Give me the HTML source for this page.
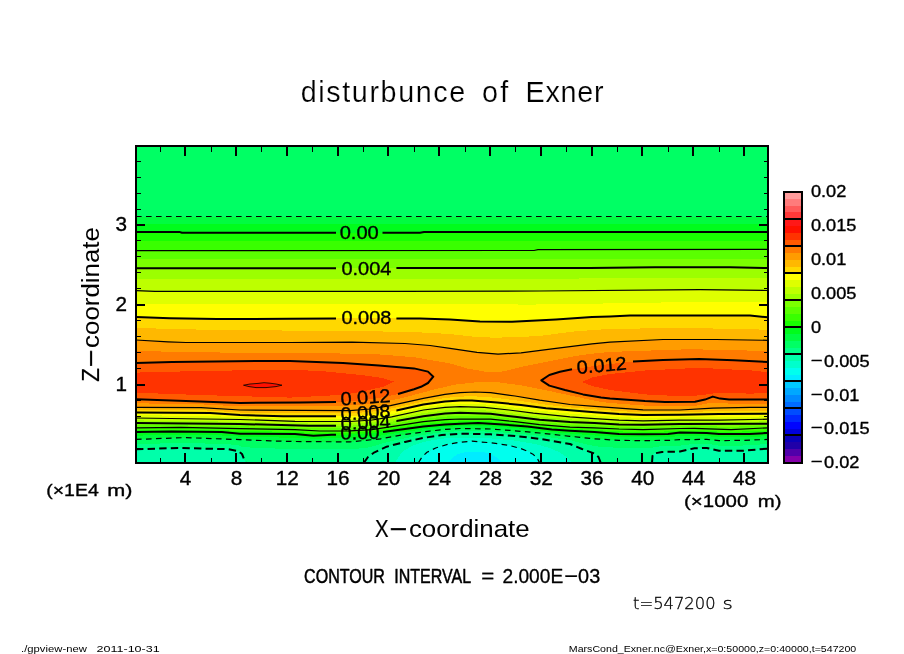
<!DOCTYPE html>
<html lang="en"><head><meta charset="utf-8"><title>disturbunce of Exner</title>
<style>html,body{margin:0;padding:0;background:#fff}svg{display:block}text{font-family:"Liberation Sans","DejaVu Sans",sans-serif;fill:#000}.thin{font-family:"DejaVu Sans Light","DejaVu Sans","Liberation Sans",sans-serif;font-weight:200;stroke:#000;stroke-width:.3px}.b{stroke:#000;stroke-width:.35px;stroke-linejoin:round}.m{stroke:#fff;stroke-width:.2px}.a{stroke:#000;stroke-width:0}</style></head><body>
<svg width="904" height="654" viewBox="0 0 904 654">
<rect width="904" height="654" fill="#fff"/>
<defs><clipPath id="cp"><rect x="136" y="146" width="632" height="316.6"/></clipPath></defs>
<g clip-path="url(#cp)" shape-rendering="crispEdges">
<rect x="136" y="146" width="632" height="316.6" fill="#00ff64"/>
<path d="M136 217.4L768 217.4L768 439.4L743.4 440.4L719 440.6L706.7 439.4L680 439.7L668 440.4L643 440.6L619 440.4L594.5 438.8L570 436.3L539.6 433L515 430.8L490.6 429L460 428.5L445 429.4L429.6 431.1L405 434.5L380.6 438.8L350 441.9L292.6 441.5L270.6 440.9L240 439.6L185 437.6L136 439.4Z" fill="#00fc40"/>
<path d="M136 224L768 224L768 436.2L749.6 437L743.4 437.1L719 437.2L706.7 436.2L680 436.1L668 437.1L643 437.5L619 437.1L594.5 435.5L570 433.5L551.8 432L539.6 430.6L527.3 429.2L515 428.2L502.8 427.2L490.6 426.4L478.4 425.9L460 426.1L445 427L429.6 428.6L423.4 429.3L405 431.8L383 435.2L380.6 435.5L355 437.9L350 438.2L331.8 438.3L313.4 438.7L295 437.7L292.6 437.7L270.6 437.4L240 436.6L221.8 435.5L185 434.6L171.6 434.8L136 435.7Z" fill="#00fc1c"/>
<path d="M136 232.1L180 232.1L182 232.8L420 232.8L424 232.1L768 232L768 433L749.6 433.9L719 433.9L706.7 433L680 432.5L668 433.9L643 434.3L619 433.9L594.5 432.1L570 430.7L551.8 429.6L527.3 426.6L502.8 424.5L478.4 422.9L460 423.8L445 424.6L423.4 426.6L405 429L383 432L355 434.4L331.8 434.8L313.4 435.7L295 433.9L240 433.7L221.8 432L171.6 431.5L136 432Z" fill="#18ff00"/>
<path d="M136 241.2L768 241L768 430.4L749.6 431.3L731 431.8L719 431.6L706.7 430.9L694.5 430.6L680 430.5L668 431.4L643 432L619 431.4L594.5 430L570 428.9L551.8 427.7L539.6 426.4L527.3 424.9L515 423.6L502.8 422.5L490.6 421.4L478.4 421L460 421.4L445 422.1L423.4 424.1L405 426.8L391.6 428.7L383 430L372 431.3L355 432.5L350 432.6L331.8 432.9L319.6 433.2L313.4 433.2L295 431.8L240 431.1L221.8 430.1L181 429.5L171.6 429.5L136 429.9Z" fill="#39ff00"/>
<path d="M136 250.6L534 250.5L538 249.7L768 249.3L768 427.8L731 429.6L694.5 428.4L680 428.5L643 429.6L619 429L594.5 427.8L570 427.2L539.6 424.7L515 421.7L490.6 419.2L460 419L445 419.6L423.4 421.7L391.6 426.6L372 429.6L350 430.8L319.6 431L295 429.6L240 428.6L181 427.4L136 427.8Z" fill="#5aff00"/>
<path d="M136 259.4L768 258.8L768 425.8L731 426.7L694.5 426.2L680 426.3L643 427.1L619 426.8L594.5 425.4L570 424.5L539.6 422.2L515 419.2L490.6 416.4L460 415.9L445 416.6L423.4 418.9L396.5 423.4L391.6 424.2L375 426.7L372 427L350 428.2L319.6 428.4L308.5 428L295 427.5L240 426.3L181 425.4L136 425.4Z" fill="#7bff00"/>
<path d="M136 268.3L590 268L655 267.3L730 267.3L768 268L768 423.7L680 424.1L643 424.7L619 424.5L594.5 422.9L570 421.9L539.6 419.8L515 416.8L490.6 413.7L460 412.8L445 413.6L423.4 416.2L396.5 421L375 424.2L350 425.7L308.5 425.7L240 424L136 422.9Z" fill="#9cff00"/>
<path d="M136 279L768 278.3L768 421.4L719 422L680 422.1L643 422.8L619 422.3L594.5 420.8L570 419.4L539.6 416.8L533.4 416.1L515 413.8L509 413L490.6 410.8L484.5 410.4L460 409.8L445 410.5L423.4 413.1L396.5 418.4L391.6 419.3L375 421.9L372 422.2L350 423.6L308.5 423.5L295 423.3L240 421.8L136 420.4Z" fill="#bdff00"/>
<path d="M136 290.6L155 291.4L400 291.3L540 291L700 289.7L768 290.5L768 419.2L719 420.1L680 420.2L643 420.8L619 420.1L594.5 418.6L570 416.8L533.4 413.1L509 410L484.5 407.3L460 406.7L445 407.4L423.4 410L391.6 416.8L372 420L350 421.5L295 421.3L240 419.5L136 418Z" fill="#deff00"/>
<path d="M136 304.3L290 304.2L450 304L530 304.6L610 303.4L690 302L768 302.5L768 416.4L719 417L680 417.5L643 417.9L619 417.1L594.5 415.4L570 413.6L546 411.3L533.4 409.9L521 408.3L509 406.9L497 405.5L484.5 404.4L472 403.7L460 403.6L445 404.5L423.4 407.2L396.5 413.2L391.6 414.1L372 417.3L350 418.9L295 418.8L283 418.6L240 417.2L210 416.1L136 415.2Z" fill="#ffff00"/>
<path d="M136 316.9L170 318.2L217 319.1L290 318.7L365 318.2L420 318.6L450 319.6L480 321.4L512 321.7L556 319.4L592 317L610 316.4L630 315.5L750 315.5L768 317.3L768 413.7L719 413.9L680 414.8L643 414.9L619 414.1L594.5 412.2L570 410.3L546 408.2L521 405.1L497 402.4L472 400.5L460 400.5L445 401.6L423.4 404.5L396.5 410.6L372 414.6L350 416.2L283 416.2L240 415L210 413.1L136 412.5Z" fill="#ffd800"/>
<path d="M136 328L200 329.6L290 330.6L370 331.2L420 332.4L450 334L475 336.8L494 337.7L515 337.2L539 336L574 331.5L610 328.8L690 328L768 329.7L768 410.5L750 410.5L719 411L713 411.1L680 412.4L643 412.4L619 411.1L594.5 409.3L570 407.4L546 404.7L539.6 403.8L521 401.1L515 400.2L497 398L490.6 397.3L475 396.4L472 396.3L460 396.6L445 398L423.4 401.4L396.5 407.5L390.4 408.6L372 411.6L370 411.9L350 413.4L283 413.2L240 412.5L210 410.6L201 410.3L136 409.9Z" fill="#ffb800"/>
<path d="M136 340L168 341.8L186 342.5L290 342.5L352 342.1L405 343.5L430 345.5L450 348.3L477 352.4L498 354.2L521 352.8L556 348.3L592 343.9L610 342.1L663 339.5L716 339.5L768 340.3L768 407.3L750 407.3L713 408.2L680 410L643 409.8L619 408.2L594.5 406.4L570 404.5L539.6 400.2L515 396L490.6 392.7L475 392L460 392.6L445 394.4L423.4 398.4L390.4 405.7L370 409L350 410.6L240 410L201 407.6L136 407.3Z" fill="#ff9c00"/>
<path d="M136 351L200 352.3L290 353.2L370 353.7L414 357.2L450 363.4L468 368.7L485 371.6L495 372L503 371.4L521 367L539 363.4L556 359.9L574 356.3L592 353.7L610 351.9L690 349.2L768 351L768 403.5L730 403.6L712 402.5L695 405.8L665 406L645 405.6L610 403L599 401.6L566 394.6L543.8 389.8L521.7 385.4L499.6 382.5L477 382.2L455 384.6L433 389.8L400 398.6L390 400.5L370 404L336 406.4L240 406.4L200 404.3L136 403.3Z" fill="#ff7b00"/>
<path d="M136 363L172 362L261 361L290 361L343 363L379 365.5L414 368.4L428 371.6L433.3 376.7L428 383L421 386.8L414 389.2L398 394L380 397.8L360 400.6L336 402.1L300 402.5L240 402.9L200 401.5L136 399.3ZM768 362L734 360.2L699 359L663 359.9L633 361.6L600 365.2L572 369.3L560 371.8L549.3 375L541.3 380.3L549.3 385.6L565 390L583 394.4L601 397.5L610 398.5L645 401L665 401.9L695 401.7L705 399.6L712.8 396.6L720 398.6L729 399.6L768 399.6Z" fill="#ff5a00"/>
<path d="M136 372.6L200 371L290 369.6L325 371.4L361 375L382 378L393.8 381.5L384 386.5L361 391.8L343 394.8L290 397.6L200 395L136 392.7ZM768 372.3L752 370.5L699 367.8L645 370.5L610 374L592 377.6L582 382L592 386L610 390L645 394.4L681 396.2L700 395.4L716 393L752 393.6L768 392.7Z" fill="#ff3300"/>
<path d="M243.5 385.2L250 384L258 383.4L264 382.7L270 383.2L276 384L282 385.2L276 386.6L266 387.6L256 387.6L249 386.6Z" fill="#ff1000"/>
<path d="M136 444.3L179 442.9L185 442.9L228 444.2L238 445.3L240 446.1L242 446.8L245.5 447.3L247 447.4L270.6 448.4L292.6 449L350 449.4L362 448.2L364 448L368 447.6L374.5 445.9L380.6 444.1L386.7 442.2L405 438.2L423.4 434.9L429.6 434L441.8 432.4L445 432.1L460 431.1L490.6 431.6L515 433.4L539.6 435.9L570 440.1L582 443.3L594.5 446.1L598.5 446.6L600.6 446.7L602 446.8L619 447.9L643 448.1L650.5 448L652 448L652.5 448L654 447L662 446.2L668 446.1L680 445.6L694.5 443.9L706.7 443.7L719 445.6L743.4 445.5L768 444L768 490L136 490Z" fill="#00ff88"/>
<path d="M136 449.2L179 448L228 449.2L238 451L242 454L245.5 462.6L247 480L362 480L364 462.6L368 457L374.5 452.3L386.7 446.7L405 441.9L423.4 437.9L441.8 435.1L460 433.7L490.6 434.3L515 436L539.6 438.8L570 444L582 449L594.5 453.5L598.5 457L600.6 462.6L602 480L650.5 480L652 462.6L652.5 456L654 453.5L662 452L680 451.5L694.5 448.2L706.7 448L719 450.7L743.4 450.7L768 448.6L768 490L136 490Z" fill="#00ffaa"/>
<path d="M395 462.6L402 452L412 446L425 441.6L441.8 438.6L460 437.6L480 437.6L490.6 438.4L515 440.6L533 443.6L548 447.4L560 452.5L568 458L572 462.6Z" fill="#00ffcc"/>
<path d="M418.5 462.6L422 457L427 452.3L435.7 448L448 444.3L460 442.2L472 441.2L490.6 442.8L509 445.3L521 448.6L528 451.4L533.4 454.6L537 458L539.6 462.6Z" fill="#00ffee"/>
<path d="M448.5 462.6L452 458L457 454.6L464 452.4L474 451.5L485 452.4L492 454.6L497.5 458L501.5 462.6Z" fill="#00ecff"/>
</g>
<g clip-path="url(#cp)" fill="none" stroke="#000" stroke-linejoin="round">
<path d="M136 216.5L768 216.5" stroke-width="1" stroke-dasharray="5.6 4.4"/>
<g stroke-width="2.0">
<path d="M136 232.1L180 232.1L182 232.8L336 232.8M382.5 232.8L420 232.8L424 232.1L768 232"/>
<path d="M136 268.3L336 268.2M396.4 268.1L590 268L655 267.3L730 267.3L768 268"/>
<path d="M136 316.9L170 318.2L217 319.1L290 318.7L336 318.4M396.4 318.4L420 318.6L450 319.6L480 321.4L512 321.7L556 319.4L592 317L610 316.4L630 315.5L750 315.5L768 317.3"/>
<path d="M136 363L172 362L261 361L290 361L343 363L379 365.5L414 368.4L428 371.6L433.3 376.7L428 383L421 386.8L414 389.2L398 394M336 402.1L300 402.5L240 402.9L200 401.5L136 399.3"/>
<path d="M768 362L734 360.2L699 359L663 359.9L633 361.6M572 369.3L560 371.8L549.3 375L541.3 380.3L549.3 385.6L565 390L583 394.4L601 397.5L610 398.5L645 401L665 401.9L695 401.7L705 399.6L712.8 396.6L720 398.6L729 399.6L768 399.6"/>
<path d="M136 412.5L210 413.1L240 415L283 416.2L336 416.2M396.4 410.6L396.5 410.6L423.4 404.5L445 401.6L460 400.5L472 400.5L497 402.4L521 405.1L546 408.2L570 410.3L594.5 412.2L619 414.1L643 414.9L680 414.8L719 413.9L768 413.7"/>
<path d="M136 422.9L240 424L308.5 425.7L336 425.7M396.4 421L396.5 421L423.4 416.2L445 413.6L460 412.8L490.6 413.7L515 416.8L539.6 419.8L570 421.9L594.5 422.9L619 424.5L643 424.7L680 424.1L768 423.7"/>
<path d="M136 432L171.6 431.5L221.8 432L240 433.7L295 433.9L313.4 435.7L331.8 434.8L336 434.7M383 432L405 429L423.4 426.6L445 424.6L460 423.8L478.4 422.9L502.8 424.5L527.3 426.6L551.8 429.6L570 430.7L594.5 432.1L619 433.9L643 434.3L668 433.9L680 432.5L706.7 433L719 433.9L749.6 433.9L768 433"/>
<path d="M136 449.2L179 448L228 449.2L238 451L242 454L245.5 462.6M364 462.6L368 457L374.5 452.3L386.7 446.7L405 441.9L423.4 437.9L441.8 435.1L460 433.7L490.6 434.3L515 436L539.6 438.8L570 444L582 449L594.5 453.5L598.5 457L600.6 462.6M652 462.6L652.5 456L654 453.5L662 452L680 451.5L694.5 448.2L706.7 448L719 450.7L743.4 450.7L768 448.6" stroke-dasharray="7.4 4.2"/>
</g>
<g stroke-width="1.2">
<path d="M136 250.6L534 250.5L538 249.7L768 249.3"/>
<path d="M136 290.6L155 291.4L400 291.3L540 291L700 289.7L768 290.5"/>
<path d="M136 340L168 341.8L186 342.5L290 342.5L352 342.1L405 343.5L430 345.5L450 348.3L477 352.4L498 354.2L521 352.8L556 348.3L592 343.9L610 342.1L663 339.5L716 339.5L768 340.3"/>
<path d="M136 407.3L201 407.6L240 410L350 410.6L370 409L390.4 405.7L423.4 398.4L445 394.4L460 392.6L475 392L490.6 392.7L515 396L539.6 400.2L570 404.5L594.5 406.4L619 408.2L643 409.8L680 410L713 408.2L750 407.3L768 407.3"/>
<path d="M136 418L240 419.5L295 421.3L350 421.5L372 420L391.6 416.8L423.4 410L445 407.4L460 406.7L484.5 407.3L509 410L533.4 413.1L570 416.8L594.5 418.6L619 420.1L643 420.8L680 420.2L719 420.1L768 419.2"/>
<path d="M136 427.8L181 427.4L240 428.6L295 429.6L319.6 431L350 430.8L372 429.6L391.6 426.6L423.4 421.7L445 419.6L460 419L490.6 419.2L515 421.7L539.6 424.7L570 427.2L594.5 427.8L619 429L643 429.6L680 428.5L694.5 428.4L731 429.6L768 427.8"/>
<path d="M243.5 385.2L250 384L258 383.4L264 382.7L270 383.2L276 384L282 385.2L276 386.6L266 387.6L256 387.6L249 386.6Z" stroke-width=".8"/>
<path d="M136 439.4L185 437.6L240 439.6L270.6 440.9L292.6 441.5L350 441.9L380.6 438.8L405 434.5L429.6 431.1L445 429.4L460 428.5L490.6 429L515 430.8L539.6 433L570 436.3L594.5 438.8L619 440.4L643 440.6L668 440.4L680 439.7L706.7 439.4L719 440.6L743.4 440.4L768 439.4" stroke-dasharray="5.6 4.4"/>
<path d="M418.5 462.6L422 457L427 452.3L435.7 448L448 444.3L460 442.2L472 441.2L490.6 442.8L509 445.3L521 448.6L528 451.4L533.4 454.6L537 458L539.6 462.6" stroke-dasharray="5.6 4.4"/>
</g>
</g>
<text x="339.7" y="238.5" font-size="18.8" textLength="39.1" lengthAdjust="spacingAndGlyphs" class="b">0.00</text>
<text x="341.4" y="274.6" font-size="18.8" textLength="50.0" lengthAdjust="spacingAndGlyphs" class="b">0.004</text>
<text x="341.4" y="323.6" font-size="18.8" textLength="50.0" lengthAdjust="spacingAndGlyphs" class="b">0.008</text>
<text x="577.3" y="373.9" font-size="18.8" textLength="50.0" lengthAdjust="spacingAndGlyphs" class="b" transform="rotate(-5 577.3 373.9)">0.012</text>
<text x="341.0" y="405.4" font-size="18.8" textLength="50.0" lengthAdjust="spacingAndGlyphs" class="b" transform="rotate(-4 341.0 405.4)">0.012</text>
<text x="341.0" y="420.8" font-size="18.8" textLength="50.0" lengthAdjust="spacingAndGlyphs" class="b" transform="rotate(-4 341.0 420.8)">0.008</text>
<text x="341.0" y="430.2" font-size="18.8" textLength="50.0" lengthAdjust="spacingAndGlyphs" class="b" transform="rotate(-3 341.0 430.2)">0.004</text>
<text x="340.6" y="439.6" font-size="18.8" textLength="39.1" lengthAdjust="spacingAndGlyphs" class="b" transform="rotate(-1 340.6 439.6)">0.00</text>
<g stroke="#000" fill="none" shape-rendering="crispEdges">
<path d="M185.2 462.6v-9.4M185.2 146v9.8M236.0 462.6v-9.4M236.0 146v9.8M286.8 462.6v-9.4M286.8 146v9.8M337.6 462.6v-9.4M337.6 146v9.8M388.4 462.6v-9.4M388.4 146v9.8M439.2 462.6v-9.4M439.2 146v9.8M490.0 462.6v-9.4M490.0 146v9.8M540.8 462.6v-9.4M540.8 146v9.8M591.6 462.6v-9.4M591.6 146v9.8M642.4 462.6v-9.4M642.4 146v9.8M693.2 462.6v-9.4M693.2 146v9.8M744.0 462.6v-9.4M744.0 146v9.8M136 384.5h9M768 384.5h-9M136 304.8h9M768 304.8h-9M136 225.0h9M768 225.0h-9" stroke-width="2"/>
<path d="M160.3 462.6v-4.9M160.3 146v6M211.1 462.6v-4.9M211.1 146v6M261.9 462.6v-4.9M261.9 146v6M312.7 462.6v-4.9M312.7 146v6M363.5 462.6v-4.9M363.5 146v6M414.3 462.6v-4.9M414.3 146v6M465.1 462.6v-4.9M465.1 146v6M515.9 462.6v-4.9M515.9 146v6M566.7 462.6v-4.9M566.7 146v6M617.5 462.6v-4.9M617.5 146v6M668.3 462.6v-4.9M668.3 146v6M719.1 462.6v-4.9M719.1 146v6M136 448.3h4.9M768 448.3h-4.4M136 432.4h4.9M768 432.4h-4.4M136 416.4h4.9M768 416.4h-4.4M136 400.4h4.9M768 400.4h-4.4M136 368.6h4.9M768 368.6h-4.4M136 352.6h4.9M768 352.6h-4.4M136 336.6h4.9M768 336.6h-4.4M136 320.7h4.9M768 320.7h-4.4M136 288.8h4.9M768 288.8h-4.4M136 272.8h4.9M768 272.8h-4.4M136 256.9h4.9M768 256.9h-4.4M136 240.9h4.9M768 240.9h-4.4M136 209.0h4.9M768 209.0h-4.4M136 193.1h4.9M768 193.1h-4.4M136 177.2h4.9M768 177.2h-4.4M136 161.2h4.9M768 161.2h-4.4" stroke-width="1"/>
<rect x="136" y="146" width="632" height="316.6" stroke-width="2"/>
</g>
<g font-size="19.3" text-anchor="middle" class="b">
<text transform="translate(185.6 484.9) scale(1.075 1)">4</text>
<text transform="translate(236.4 484.9) scale(1.075 1)">8</text>
<text transform="translate(287.2 484.9) scale(1.075 1)">12</text>
<text transform="translate(338.0 484.9) scale(1.075 1)">16</text>
<text transform="translate(388.8 484.9) scale(1.075 1)">20</text>
<text transform="translate(439.6 484.9) scale(1.075 1)">24</text>
<text transform="translate(490.4 484.9) scale(1.075 1)">28</text>
<text transform="translate(541.2 484.9) scale(1.075 1)">32</text>
<text transform="translate(592.0 484.9) scale(1.075 1)">36</text>
<text transform="translate(642.8 484.9) scale(1.075 1)">40</text>
<text transform="translate(693.6 484.9) scale(1.075 1)">44</text>
<text transform="translate(744.4 484.9) scale(1.075 1)">48</text>
<text transform="translate(121.2 390.7) scale(1.075 1)">1</text>
<text transform="translate(121.2 310.9) scale(1.075 1)">2</text>
<text transform="translate(121.2 231.2) scale(1.075 1)">3</text>
</g>
<text y="495.7" font-size="16.8" class="b"><tspan x="46.2" textLength="52.6" lengthAdjust="spacingAndGlyphs">(×1E4</tspan> <tspan x="107.3" textLength="25.2" lengthAdjust="spacingAndGlyphs">m)</tspan></text>
<text y="506.6" font-size="16.8" class="b"><tspan x="684.0" textLength="64.3" lengthAdjust="spacingAndGlyphs">(×1000</tspan> <tspan x="757.8" textLength="23.7" lengthAdjust="spacingAndGlyphs">m)</tspan></text>
<text y="537.1" font-size="24.8" class="a" aria-label="X-coordinate"><tspan x="375.1" stroke-width=".2" textLength="13.6" lengthAdjust="spacingAndGlyphs">X</tspan><tspan x="388.6" dy="-1.9" stroke-width=".3" textLength="19.7" lengthAdjust="spacingAndGlyphs">-</tspan><tspan x="408.9" dy="1.9" textLength="120.8" lengthAdjust="spacingAndGlyphs">coordinate</tspan></text>
<text y="0" font-size="24.8" class="a" aria-label="Z-coordinate" transform="translate(99.1 380.9) rotate(-90)"><tspan x="-0.8" stroke-width=".2" textLength="13.6" lengthAdjust="spacingAndGlyphs">Z</tspan><tspan x="12.7" dy="-1.9" stroke-width=".3" textLength="19.7" lengthAdjust="spacingAndGlyphs">-</tspan><tspan x="33.0" dy="1.9" textLength="120.8" lengthAdjust="spacingAndGlyphs">coordinate</tspan></text>
<text y="102.3" font-size="28.7" class="m"><tspan x="300.7" textLength="164.6" lengthAdjust="spacing">disturbunce</tspan> <tspan x="482.1" textLength="26.2" lengthAdjust="spacing">of</tspan> <tspan x="525.6" textLength="77.9" lengthAdjust="spacing">Exner</tspan></text>
<text y="583.1" font-size="19.3" class="b"><tspan x="304.1" stroke-width="0.5" textLength="80.8" lengthAdjust="spacingAndGlyphs">CONTOUR</tspan> <tspan x="394.3" stroke-width="0.5" textLength="76.2" lengthAdjust="spacingAndGlyphs">INTERVAL</tspan> <tspan x="481.2" stroke-width="0.3" textLength="13.0" lengthAdjust="spacingAndGlyphs">=</tspan> <tspan x="502.5" stroke-width="0.3" textLength="60.7" lengthAdjust="spacingAndGlyphs">2.000E</tspan><tspan x="563.6" dy="-1.4" stroke-width="0.2" textLength="15.4" lengthAdjust="spacingAndGlyphs">-</tspan><tspan x="578.1" dy="1.4" stroke-width="0.3" textLength="22.1" lengthAdjust="spacingAndGlyphs">03</tspan></text>
<text y="609.1" font-size="15.7" class="thin"><tspan x="633.0" textLength="82.6" lengthAdjust="spacingAndGlyphs">t=547200</tspan> <tspan x="722.4" textLength="10.3" lengthAdjust="spacingAndGlyphs">s</tspan></text>
<text y="651.8" font-size="9.1" class="s"><tspan x="21.1" textLength="65.7" lengthAdjust="spacingAndGlyphs">./gpview-new</tspan> <tspan x="96.5" textLength="63.2" lengthAdjust="spacingAndGlyphs">2011-10-31</tspan></text>
<text y="651.8" font-size="9.1" class="s"><tspan x="568.8" textLength="287.5" lengthAdjust="spacingAndGlyphs">MarsCond_Exner.nc@Exner,x=0:50000,z=0:40000,t=547200</tspan></text>
<g shape-rendering="crispEdges">
<rect x="784" y="192.20" width="18" height="7.06" fill="#ff9c9c"/>
<rect x="784" y="198.96" width="18" height="7.06" fill="#ff7b7b"/>
<rect x="784" y="205.72" width="18" height="7.06" fill="#ff5a5a"/>
<rect x="784" y="212.49" width="18" height="7.06" fill="#ff3939"/>
<rect x="784" y="219.25" width="18" height="7.06" fill="#ff1818"/>
<rect x="784" y="226.01" width="18" height="7.06" fill="#ff1000"/>
<rect x="784" y="232.77" width="18" height="7.06" fill="#ff3300"/>
<rect x="784" y="239.54" width="18" height="7.06" fill="#ff5a00"/>
<rect x="784" y="246.30" width="18" height="7.06" fill="#ff7b00"/>
<rect x="784" y="253.06" width="18" height="7.06" fill="#ff9c00"/>
<rect x="784" y="259.82" width="18" height="7.06" fill="#ffb800"/>
<rect x="784" y="266.59" width="18" height="7.06" fill="#ffd800"/>
<rect x="784" y="273.35" width="18" height="7.06" fill="#ffff00"/>
<rect x="784" y="280.11" width="18" height="7.06" fill="#deff00"/>
<rect x="784" y="286.88" width="18" height="7.06" fill="#bdff00"/>
<rect x="784" y="293.64" width="18" height="7.06" fill="#9cff00"/>
<rect x="784" y="300.40" width="18" height="7.06" fill="#7bff00"/>
<rect x="784" y="307.16" width="18" height="7.06" fill="#5aff00"/>
<rect x="784" y="313.93" width="18" height="7.06" fill="#39ff00"/>
<rect x="784" y="320.69" width="18" height="7.06" fill="#18ff00"/>
<rect x="784" y="327.45" width="18" height="7.06" fill="#00fc1c"/>
<rect x="784" y="334.21" width="18" height="7.06" fill="#00fc40"/>
<rect x="784" y="340.98" width="18" height="7.06" fill="#00ff64"/>
<rect x="784" y="347.74" width="18" height="7.06" fill="#00ff88"/>
<rect x="784" y="354.50" width="18" height="7.06" fill="#00ffaa"/>
<rect x="784" y="361.26" width="18" height="7.06" fill="#00ffcc"/>
<rect x="784" y="368.02" width="18" height="7.06" fill="#00ffee"/>
<rect x="784" y="374.79" width="18" height="7.06" fill="#00ecff"/>
<rect x="784" y="381.55" width="18" height="7.06" fill="#00c8ff"/>
<rect x="784" y="388.31" width="18" height="7.06" fill="#00a8ff"/>
<rect x="784" y="395.07" width="18" height="7.06" fill="#008aff"/>
<rect x="784" y="401.84" width="18" height="7.06" fill="#006cff"/>
<rect x="784" y="408.60" width="18" height="7.06" fill="#004cff"/>
<rect x="784" y="415.36" width="18" height="7.06" fill="#0028ff"/>
<rect x="784" y="422.12" width="18" height="7.06" fill="#0004ff"/>
<rect x="784" y="428.89" width="18" height="7.06" fill="#0000dc"/>
<rect x="784" y="435.65" width="18" height="7.06" fill="#0a00b8"/>
<rect x="784" y="442.41" width="18" height="7.06" fill="#2000a8"/>
<rect x="784" y="449.18" width="18" height="7.06" fill="#5000aa"/>
<rect x="784" y="455.94" width="18" height="7.06" fill="#8400aa"/>
<path d="M784 218.85H802M784 245.90H802M784 272.95H802M784 300.00H802M784 327.05H802M784 354.10H802M784 381.15H802M784 408.20H802M784 435.25H802" stroke="#000" stroke-width="2" fill="none"/>
<rect x="784" y="192.2" width="18" height="270.5" fill="none" stroke="#000" stroke-width="2"/>
</g>
<g font-size="16.1" class="b">
<text y="197.1"><tspan x="810.9" textLength="35.4" lengthAdjust="spacingAndGlyphs">0.02</tspan></text>
<text y="231.0"><tspan x="810.9" textLength="45.5" lengthAdjust="spacingAndGlyphs">0.015</tspan></text>
<text y="264.9"><tspan x="810.9" textLength="35.4" lengthAdjust="spacingAndGlyphs">0.01</tspan></text>
<text y="298.8"><tspan x="810.9" textLength="45.5" lengthAdjust="spacingAndGlyphs">0.005</tspan></text>
<text y="332.7"><tspan x="810.9" textLength="10.1" lengthAdjust="spacingAndGlyphs">0</tspan></text>
<text y="366.6"><tspan x="810.1" dy="-2" stroke-width=".2" textLength="13.5" lengthAdjust="spacingAndGlyphs">-</tspan><tspan x="824.1" textLength="45.5" lengthAdjust="spacingAndGlyphs" dy="2">0.005</tspan></text>
<text y="400.5"><tspan x="810.1" dy="-2" stroke-width=".2" textLength="13.5" lengthAdjust="spacingAndGlyphs">-</tspan><tspan x="824.1" textLength="35.4" lengthAdjust="spacingAndGlyphs" dy="2">0.01</tspan></text>
<text y="434.4"><tspan x="810.1" dy="-2" stroke-width=".2" textLength="13.5" lengthAdjust="spacingAndGlyphs">-</tspan><tspan x="824.1" textLength="45.5" lengthAdjust="spacingAndGlyphs" dy="2">0.015</tspan></text>
<text y="468.3"><tspan x="810.1" dy="-2" stroke-width=".2" textLength="13.5" lengthAdjust="spacingAndGlyphs">-</tspan><tspan x="824.1" textLength="35.4" lengthAdjust="spacingAndGlyphs" dy="2">0.02</tspan></text>
</g>
</svg></body></html>
